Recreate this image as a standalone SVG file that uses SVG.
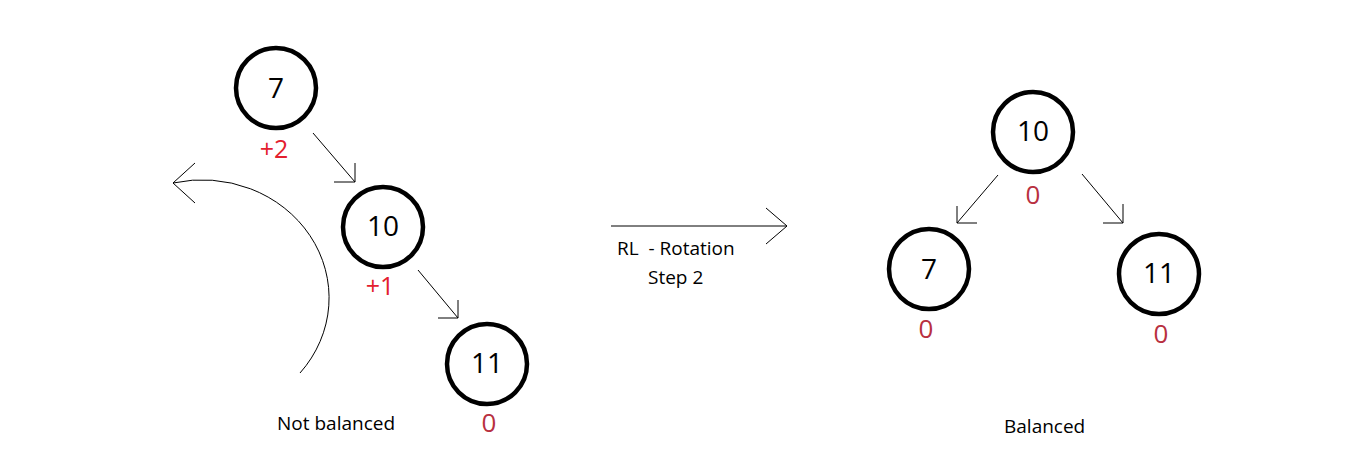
<svg xmlns="http://www.w3.org/2000/svg" width="1368" height="460" viewBox="0 0 1368 460">
<style>
.node{fill:none;stroke:#000;stroke-width:4.5}
.val{font-family:"Open Sans","Liberation Sans",sans-serif;font-size:28px;fill:#000;text-anchor:middle}
.bf{font-family:"Open Sans","Liberation Sans",sans-serif;font-size:25px;fill:#e3202e;text-anchor:middle}
.bz{font-family:"Open Sans","Liberation Sans",sans-serif;font-size:26px;fill:#b83040;text-anchor:middle}
.lbl{font-family:"Open Sans","Liberation Sans",sans-serif;font-size:19px;fill:#000}
.edge{fill:none;stroke:#000;stroke-width:1}
</style>
<rect width="1368" height="460" fill="#fff"/>
<g id="connectors">
<path class="edge" d="M313,133 L355,182 M355,163 L355,182 L334,182"/>
<path class="edge" d="M418,270 L458,318 M458,300 L458,318 L438,318"/>
<path class="edge" d="M173,183 A127,118 0 0 1 300,373 M195,163 L173,183 L195,203"/>
<path class="edge" d="M611,226 L787,226 M766,208 L787,226 L766,244"/>
<path class="edge" d="M998,175 L957,223 M957,206 L957,223 L977,223"/>
<path class="edge" d="M1082,174 L1123,223 M1123,204 L1123,223 L1103,223"/>
</g>
<g id="node-7-left">
<circle class="node" cx="276" cy="88" r="40"/>
<text class="val" x="276" y="98">7</text>
<text class="bf" x="274" y="158">+2</text>
</g>
<g id="node-10-left">
<circle class="node" cx="383" cy="227" r="40"/>
<text class="val" x="383" y="236">10</text>
<text class="bf" x="380" y="295">+1</text>
</g>
<g id="node-11-left">
<circle class="node" cx="487" cy="364" r="40"/>
<text class="val" x="487" y="373">11</text>
<text class="bz" x="489" y="432">0</text>
</g>
<g id="node-10-right">
<circle class="node" cx="1033" cy="132" r="40"/>
<text class="val" x="1033" y="141">10</text>
<text class="bz" x="1033" y="204">0</text>
</g>
<g id="node-7-right">
<circle class="node" cx="929" cy="269" r="40"/>
<text class="val" x="929" y="279">7</text>
<text class="bz" x="926" y="338">0</text>
</g>
<g id="node-11-right">
<circle class="node" cx="1159" cy="274" r="40"/>
<text class="val" x="1159" y="283">11</text>
<text class="bz" x="1161" y="343">0</text>
</g>
<g id="labels">
<text class="lbl" x="277" y="430">Not balanced</text>
<text class="lbl" x="617" y="255" style="white-space:pre">RL  - Rotation</text>
<text class="lbl" x="648" y="284">Step 2</text>
<text class="lbl" x="1004" y="433">Balanced</text>
</g>
</svg>
